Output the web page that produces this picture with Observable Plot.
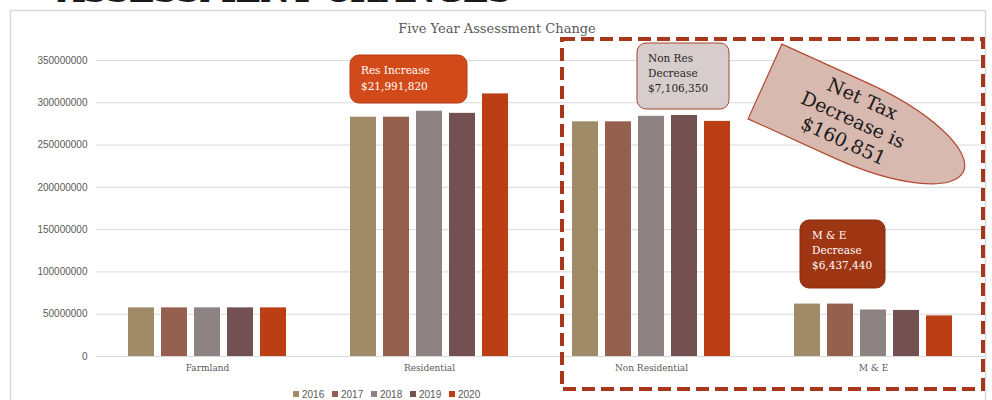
<!DOCTYPE html>
<html><head><meta charset="utf-8">
<script src="https://cdn.jsdelivr.net/npm/d3@7"></script>
<script src="https://cdn.jsdelivr.net/npm/@observablehq/plot@0.6"></script>
<style>
body{margin:0;background:#fff;}
#wrap{position:relative;width:992px;height:400px;overflow:hidden;background:#fff;}
#wrap svg{position:absolute;left:0;top:0;}
</style></head><body><div id="wrap"></div>
<script>
const categories = ["Farmland", "Residential", "Non Residential", "M & E"];
const years = ["2016", "2017", "2018", "2019", "2020"];
const colors = ["#a08b68", "#96604f", "#8d8383", "#735052", "#bb3e14"];
const values2016 = [57500000, 283000000, 277500000, 62000000];
const values2017 = [57500000, 283000000, 277500000, 62000000];
const values2018 = [57500000, 290000000, 284000000, 55000000];
const values2019 = [57500000, 287500000, 285000000, 54500000];
const values2020 = [57500000, 310500000, 278000000, 48000000];
const yTicks = [0, 50000000, 100000000, 150000000, 200000000, 250000000, 300000000, 350000000];
const titleText = "Five Year Assessment Change";

const series = [values2016, values2017, values2018, values2019, values2020];
const data = [];
years.forEach((yr, i) => categories.forEach((c, j) => data.push({category: c, year: yr, value: series[i][j]})));

const serif = "'DejaVu Serif', serif";
const sans = "'Liberation Sans', Arial, sans-serif";

const plot = Plot.plot({
  width: 992, height: 400,
  marginTop: 60, marginBottom: 44, marginLeft: 95, marginRight: 7,
  style: {fontFamily: sans, fontSize: "10px", color: "#595959", background: "transparent"},
  fx: {domain: categories, padding: 0, label: null},
  x: {domain: years, axis: null, paddingInner: 0.22, paddingOuter: 0.885},
  y: {domain: [0, 350000000], label: null},
  color: {domain: years, range: colors},
  marks: [
    Plot.ruleY(yTicks, {stroke: "#d9d9d9", strokeWidth: 1}),
    Plot.barY(data, {fx: "category", x: "year", y: "value", fill: "year"}),
    Plot.axisY(yTicks, {tickSize: 0, tickPadding: 9, tickFormat: d3.format("d"), label: null, fontSize: 10, fill: "#595959"}),
    Plot.axisFx({anchor: "bottom", tickSize: 0, tickPadding: 8, label: null, fontFamily: serif, fontSize: 9, fill: "#595959"})
  ]
});
const wrap = document.getElementById("wrap");
wrap.appendChild(plot);

// overlay decorations
const svg = d3.select(wrap).append("svg").attr("width", 992).attr("height", 400).style("pointer-events", "none");

svg.append("rect").attr("x", 10.5).attr("y", 10.5).attr("width", 975).attr("height", 420)
  .attr("fill", "none").attr("stroke", "#d9d9d9").attr("stroke-width", 1.5);

svg.append("text").attr("x", 58).attr("y", 2).attr("textLength", 454)
  .attr("font-family", serif).attr("font-weight", "bold").attr("font-size", 34).attr("fill", "#1a1a1a")
  .text("ASSESSMENT CHANGES");

svg.append("text").attr("x", 497).attr("y", 33).attr("text-anchor", "middle")
  .attr("font-family", serif).attr("font-size", 13).attr("fill", "#595959").text(titleText);

// legend
const lg = svg.append("g");
years.forEach((yr, i) => {
  const x0 = 293 + i * 39;
  lg.append("rect").attr("x", x0).attr("y", 391).attr("width", 6).attr("height", 6).attr("fill", colors[i]);
  lg.append("text").attr("x", x0 + 9).attr("y", 398).attr("font-family", sans).attr("font-size", 10)
    .attr("fill", "#595959").text(yr);
});

function box(x, y, w, h, fill, stroke, lines, tx, ty, color, fs, lh) {
  svg.append("rect").attr("x", x).attr("y", y).attr("width", w).attr("height", h).attr("rx", 9)
    .attr("fill", fill).attr("stroke", stroke).attr("stroke-width", 1);
  lines.forEach((t, i) => svg.append("text").attr("x", tx).attr("y", ty + i * lh)
    .attr("font-family", serif).attr("font-size", fs).attr("fill", color).text(t));
}
box(350, 55, 117, 48, "#d24a19", "#b53d14", ["Res Increase", "$21,991,820"], 361, 74, "#fff", 10.5, 15.5);
box(637, 43, 92, 66, "#d6cdcc", "#a8452b", ["Non Res", "Decrease", "$7,106,350"], 648, 62, "#262626", 10.5, 15);
box(800, 220, 85, 68, "#9e3513", "#8a2d10", ["M & E", "Decrease", "$6,437,440"], 812, 239, "#fff", 10.5, 15);

// dashed frame
svg.append("rect").attr("x", 562).attr("y", 39).attr("width", 421).attr("height", 350)
  .attr("fill", "none").attr("stroke", "#a8361a").attr("stroke-width", 4).attr("stroke-dasharray", "13 6");

// Net tax bullet shape
const g = svg.append("g").attr("transform", "translate(765,81.5) rotate(24.4)");
g.append("path").attr("d", "M0,-41 L95,-41 A123,41 0 0 1 95,41 L0,41 Z")
  .attr("fill", "#d8b9af").attr("stroke", "#b04a30").attr("stroke-width", 1.2);
["Net Tax", "Decrease is", "$160,851"].forEach((t, i) => g.append("text").attr("x", 96).attr("y", -18 + i * 23)
  .attr("text-anchor", "middle").attr("font-family", serif).attr("font-size", 19).attr("fill", "#1a1a1a").text(t));
</script></body></html>
